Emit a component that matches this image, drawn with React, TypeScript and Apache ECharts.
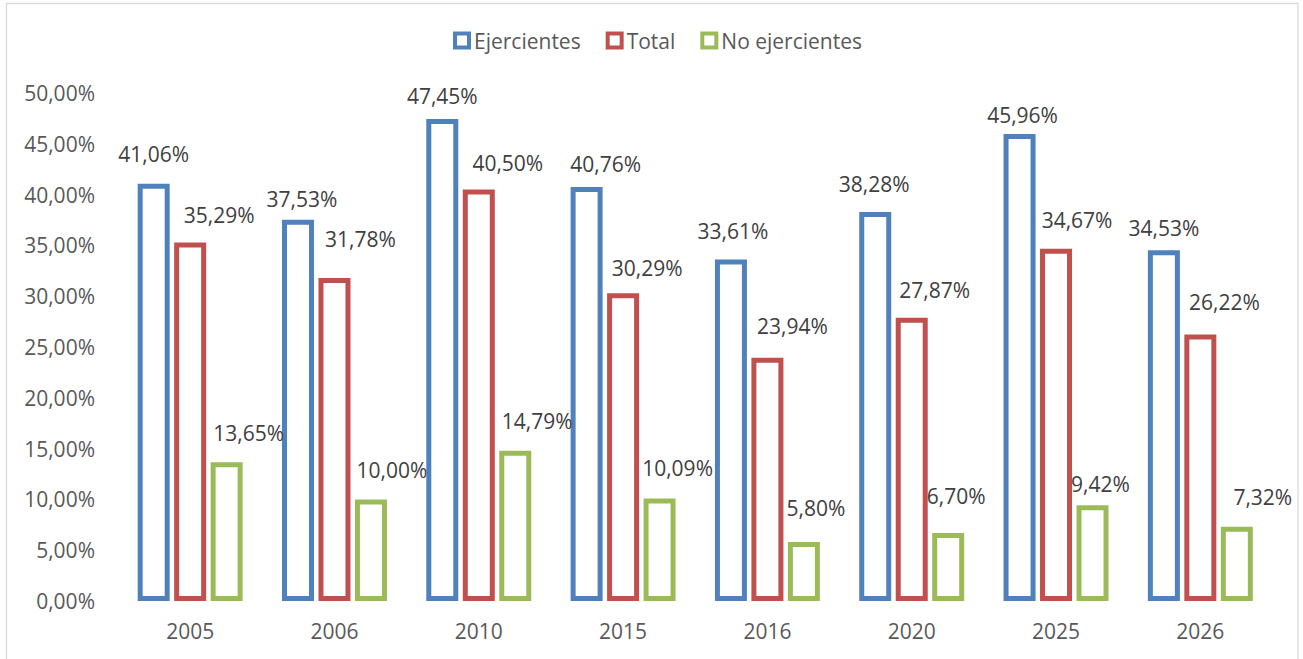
import React, { useEffect, useRef } from "react";
import * as echarts from "echarts";

const categories = ["2005", "2006", "2010", "2015", "2016", "2020", "2025", "2026"];
const ejercientes = [41.06, 37.53, 47.45, 40.76, 33.61, 38.28, 45.96, 34.53];
const total = [35.29, 31.78, 40.5, 30.29, 23.94, 27.87, 34.67, 26.22];
const noEjercientes = [13.65, 10.0, 14.79, 10.09, 5.8, 6.7, 9.42, 7.32];

// label placement tweaks (style only)
const shiftBlue = [[0, 0], [4, 9], [0, 7], [19, 7], [2, 1], [-1, 1], [3, 10], [0, 7]];
const shiftRed = [[29, 2], [26, -10], [29, 3], [24, 4], [25, -2], [23, 2], [21, 1], [24, -3]];
const shiftGreen = [[22, 0], [21, 0], [22, 0], [18, -1], [12, -5], [8, -7], [8, 8], [26, 0]];

const FONT = "'Open Sans', sans-serif";
const fmt = (v: number) => v.toFixed(2).replace(".", ",") + "%";

export default function App() {
  const ref = useRef<HTMLDivElement>(null);
  useEffect(() => {
    if (!ref.current) return;
    const chart = echarts.init(ref.current, undefined, { renderer: "svg" });
    const mk = (name: string, values: number[], shifts: number[][], color: string) => ({
      name,
      type: "bar",
      barWidth: 32,
      barGap: "14%",
      itemStyle: { color: "#ffffff", borderColor: color, borderWidth: 5 },
      label: {
        show: true,
        position: "top",
        distance: 19,
        color: "#404040",
        fontSize: 21,
        fontFamily: FONT,
        formatter: (p: any) => fmt(p.value),
      },
      data: values.map((v, i) => ({ value: v, label: { offset: shifts[i] } })),
    });
    chart.setOption({
      animation: false,
      backgroundColor: "#ffffff",
      textStyle: { fontFamily: FONT },
      graphic: [
        {
          type: "rect",
          shape: { x: 6.5, y: 3.5, width: 1291.5, height: 700 },
          style: { fill: "none", stroke: "#d9d9d9", lineWidth: 1.3 },
          silent: true,
        },
      ],
      legend: {
        top: 25,
        left: 448,
        itemGap: 25,
        itemWidth: 14,
        itemHeight: 14,
        icon: "rect",
        textStyle: { color: "#595959", fontSize: 21, fontFamily: FONT },
        data: [
          { name: "Ejercientes", itemStyle: { color: "#fff", borderColor: "#4F81BD", borderWidth: 4 } },
          { name: "Total", itemStyle: { color: "#fff", borderColor: "#C0504D", borderWidth: 4 } },
          { name: "No ejercientes", itemStyle: { color: "#fff", borderColor: "#9BBB59", borderWidth: 4 } },
        ],
      },
      grid: { left: 118, right: 30.5, top: 93, bottom: 58 },
      xAxis: {
        type: "category",
        data: categories,
        axisLine: { show: false },
        axisTick: { show: false },
        axisLabel: { color: "#595959", fontSize: 21, fontFamily: FONT, margin: 19 },
      },
      yAxis: {
        type: "value",
        min: 0,
        max: 50,
        interval: 5,
        splitLine: { show: false },
        axisLine: { show: false },
        axisTick: { show: false },
        axisLabel: {
          color: "#595959",
          fontSize: 21,
          fontFamily: FONT,
          margin: 23,
          formatter: (v: number) => fmt(v),
        },
      },
      series: [
        mk("Ejercientes", ejercientes, shiftBlue, "#4F81BD"),
        mk("Total", total, shiftRed, "#C0504D"),
        mk("No ejercientes", noEjercientes, shiftGreen, "#9BBB59"),
      ],
    });
    return () => chart.dispose();
  }, []);
  return (
    <div
      ref={ref}
      style={{ position: "fixed", left: 0, top: 0, width: 1303, height: 659 }}
    />
  );
}
